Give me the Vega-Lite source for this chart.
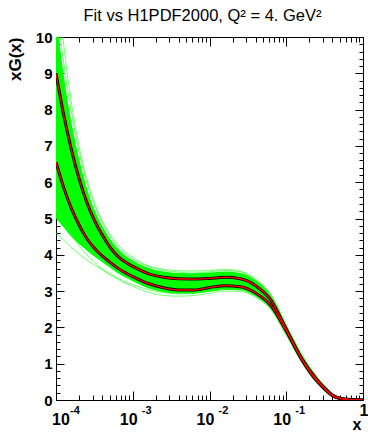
{
  "$schema": "https://vega.github.io/schema/vega-lite/v6.json",
  "width": 307,
  "height": 363,
  "autosize": "none",
  "padding": {"left": 56, "top": 37, "right": 5, "bottom": 34},
  "background": "white",
  "title": {"text": "Fit vs H1PDF2000, Q² = 4. GeV²", "font": "Liberation Sans", "fontSize": 16.5, "fontWeight": "normal", "color": "black", "anchor": "middle", "dx": -7, "offset": 6},
  "config": {
    "view": {"stroke": null},
    "axis": {"grid": false, "domainColor": "black", "tickColor": "black", "labelColor": "black", "titleColor": "black", "labelFont": "Liberation Sans", "titleFont": "Liberation Sans", "labelFontWeight": "bold", "titleFontWeight": "bold", "tickWidth": 1, "domainWidth": 1}
  },
  "datasets": {
    "band": [
      {"x": 0.0001, "lo": 5.0, "hi": 10.6},
      {"x": 0.00012589, "lo": 4.75, "hi": 8.95},
      {"x": 0.00015849, "lo": 4.5, "hi": 7.65},
      {"x": 0.00019953, "lo": 4.3, "hi": 6.65},
      {"x": 0.00025119, "lo": 4.12, "hi": 5.85},
      {"x": 0.00031623, "lo": 3.95, "hi": 5.25},
      {"x": 0.00039811, "lo": 3.8, "hi": 4.8},
      {"x": 0.00050119, "lo": 3.65, "hi": 4.45},
      {"x": 0.00063096, "lo": 3.5, "hi": 4.18},
      {"x": 0.00079433, "lo": 3.38, "hi": 3.98},
      {"x": 0.001, "lo": 3.27, "hi": 3.84},
      {"x": 0.0015849, "lo": 3.08, "hi": 3.64},
      {"x": 0.0025119, "lo": 2.97, "hi": 3.54},
      {"x": 0.0039811, "lo": 2.93, "hi": 3.5},
      {"x": 0.0063096, "lo": 2.93, "hi": 3.49},
      {"x": 0.01, "lo": 2.98, "hi": 3.51},
      {"x": 0.015849, "lo": 3.03, "hi": 3.54},
      {"x": 0.025119, "lo": 3.02, "hi": 3.5},
      {"x": 0.039811, "lo": 2.85, "hi": 3.3},
      {"x": 0.063096, "lo": 2.5, "hi": 2.88},
      {"x": 0.1, "lo": 1.8, "hi": 2.05},
      {"x": 0.15849, "lo": 1.05, "hi": 1.25},
      {"x": 0.25119, "lo": 0.47, "hi": 0.62},
      {"x": 0.31623, "lo": 0.26, "hi": 0.38},
      {"x": 0.39811, "lo": 0.1, "hi": 0.18},
      {"x": 0.50119, "lo": 0.03, "hi": 0.07},
      {"x": 0.63096, "lo": 0.01, "hi": 0.03},
      {"x": 1, "lo": 0, "hi": 0}
    ],
    "curves": [
      {"s": "U", "x": 0.0001, "y": 9.0},
      {"s": "U", "x": 0.00012589, "y": 7.85},
      {"s": "U", "x": 0.00015849, "y": 6.9},
      {"s": "U", "x": 0.00019953, "y": 6.1},
      {"s": "U", "x": 0.00025119, "y": 5.45},
      {"s": "U", "x": 0.00031623, "y": 4.95},
      {"s": "U", "x": 0.00039811, "y": 4.55},
      {"s": "U", "x": 0.00050119, "y": 4.22},
      {"s": "U", "x": 0.00063096, "y": 3.97},
      {"s": "U", "x": 0.00079433, "y": 3.8},
      {"s": "U", "x": 0.001, "y": 3.68},
      {"s": "U", "x": 0.0015849, "y": 3.48},
      {"s": "U", "x": 0.0025119, "y": 3.38},
      {"s": "U", "x": 0.0039811, "y": 3.34},
      {"s": "U", "x": 0.0063096, "y": 3.33},
      {"s": "U", "x": 0.01, "y": 3.35},
      {"s": "U", "x": 0.015849, "y": 3.38},
      {"s": "U", "x": 0.025119, "y": 3.34},
      {"s": "U", "x": 0.039811, "y": 3.15},
      {"s": "U", "x": 0.063096, "y": 2.75},
      {"s": "U", "x": 0.1, "y": 1.95},
      {"s": "U", "x": 0.15849, "y": 1.15},
      {"s": "U", "x": 0.25119, "y": 0.56},
      {"s": "U", "x": 0.31623, "y": 0.33},
      {"s": "U", "x": 0.39811, "y": 0.14},
      {"s": "U", "x": 0.50119, "y": 0.05},
      {"s": "U", "x": 0.63096, "y": 0.02},
      {"s": "U", "x": 1, "y": 0},
      {"s": "L", "x": 0.0001, "y": 6.55},
      {"s": "L", "x": 0.00012589, "y": 5.85},
      {"s": "L", "x": 0.00015849, "y": 5.28},
      {"s": "L", "x": 0.00019953, "y": 4.82},
      {"s": "L", "x": 0.00025119, "y": 4.45},
      {"s": "L", "x": 0.00031623, "y": 4.18},
      {"s": "L", "x": 0.00039811, "y": 3.97},
      {"s": "L", "x": 0.00050119, "y": 3.8},
      {"s": "L", "x": 0.00063096, "y": 3.64},
      {"s": "L", "x": 0.00079433, "y": 3.51},
      {"s": "L", "x": 0.001, "y": 3.4},
      {"s": "L", "x": 0.0015849, "y": 3.21},
      {"s": "L", "x": 0.0025119, "y": 3.09},
      {"s": "L", "x": 0.0039811, "y": 3.03},
      {"s": "L", "x": 0.0063096, "y": 3.03},
      {"s": "L", "x": 0.01, "y": 3.1},
      {"s": "L", "x": 0.015849, "y": 3.15},
      {"s": "L", "x": 0.025119, "y": 3.12},
      {"s": "L", "x": 0.039811, "y": 2.95},
      {"s": "L", "x": 0.063096, "y": 2.6},
      {"s": "L", "x": 0.1, "y": 1.9},
      {"s": "L", "x": 0.15849, "y": 1.12},
      {"s": "L", "x": 0.25119, "y": 0.52},
      {"s": "L", "x": 0.31623, "y": 0.3},
      {"s": "L", "x": 0.39811, "y": 0.12},
      {"s": "L", "x": 0.50119, "y": 0.04},
      {"s": "L", "x": 0.63096, "y": 0.015},
      {"s": "L", "x": 1, "y": 0}
    ],
    "outA": [
      {"s": "o1", "x": 0.0001, "y": 12.0},
      {"s": "o1", "x": 0.00012589, "y": 9.8},
      {"s": "o1", "x": 0.00015849, "y": 8.2},
      {"s": "o1", "x": 0.00019953, "y": 7.0},
      {"s": "o1", "x": 0.00025119, "y": 6.1},
      {"s": "o1", "x": 0.00031623, "y": 5.45},
      {"s": "o1", "x": 0.00039811, "y": 4.95},
      {"s": "o1", "x": 0.00050119, "y": 4.58},
      {"s": "o1", "x": 0.00063096, "y": 4.3},
      {"s": "o1", "x": 0.00079433, "y": 4.08},
      {"s": "o1", "x": 0.001, "y": 3.93},
      {"s": "o1", "x": 0.0015849, "y": 3.7},
      {"s": "o1", "x": 0.0025119, "y": 3.6},
      {"s": "o1", "x": 0.0039811, "y": 3.56},
      {"s": "o1", "x": 0.0063096, "y": 3.55},
      {"s": "o1", "x": 0.01, "y": 3.57},
      {"s": "o1", "x": 0.015849, "y": 3.6},
      {"s": "o1", "x": 0.025119, "y": 3.55},
      {"s": "o1", "x": 0.039811, "y": 3.33},
      {"s": "o1", "x": 0.063096, "y": 2.9},
      {"s": "o1", "x": 0.1, "y": 2.06},
      {"s": "o1", "x": 0.15849, "y": 1.26},
      {"s": "o1", "x": 0.25119, "y": 0.63},
      {"s": "o1", "x": 0.31623, "y": 0.39},
      {"s": "o1", "x": 0.39811, "y": 0.18},
      {"s": "o1", "x": 0.50119, "y": 0.07},
      {"s": "o1", "x": 0.63096, "y": 0.03},
      {"s": "o1", "x": 1, "y": 0},
      {"s": "o2", "x": 0.0001, "y": 4.6},
      {"s": "o2", "x": 0.00012589, "y": 4.4},
      {"s": "o2", "x": 0.00015849, "y": 4.2},
      {"s": "o2", "x": 0.00019953, "y": 4.02},
      {"s": "o2", "x": 0.00025119, "y": 3.86},
      {"s": "o2", "x": 0.00031623, "y": 3.72},
      {"s": "o2", "x": 0.00039811, "y": 3.58},
      {"s": "o2", "x": 0.00050119, "y": 3.45},
      {"s": "o2", "x": 0.00063096, "y": 3.33},
      {"s": "o2", "x": 0.00079433, "y": 3.22},
      {"s": "o2", "x": 0.001, "y": 3.13},
      {"s": "o2", "x": 0.0015849, "y": 2.97},
      {"s": "o2", "x": 0.0025119, "y": 2.88},
      {"s": "o2", "x": 0.0039811, "y": 2.86},
      {"s": "o2", "x": 0.0063096, "y": 2.88},
      {"s": "o2", "x": 0.01, "y": 2.94},
      {"s": "o2", "x": 0.015849, "y": 3.0},
      {"s": "o2", "x": 0.025119, "y": 2.99},
      {"s": "o2", "x": 0.039811, "y": 2.83},
      {"s": "o2", "x": 0.063096, "y": 2.48},
      {"s": "o2", "x": 0.1, "y": 1.78},
      {"s": "o2", "x": 0.15849, "y": 1.04},
      {"s": "o2", "x": 0.25119, "y": 0.46},
      {"s": "o2", "x": 0.31623, "y": 0.25},
      {"s": "o2", "x": 0.39811, "y": 0.1},
      {"s": "o2", "x": 0.50119, "y": 0.03},
      {"s": "o2", "x": 0.63096, "y": 0.01},
      {"s": "o2", "x": 1, "y": 0}
    ],
    "outB": [
      {"s": "o3", "x": 0.0001, "y": 5.3},
      {"s": "o3", "x": 0.00012589, "y": 4.9},
      {"s": "o3", "x": 0.00015849, "y": 4.55},
      {"s": "o3", "x": 0.00019953, "y": 4.25},
      {"s": "o3", "x": 0.00025119, "y": 4.0},
      {"s": "o3", "x": 0.00031623, "y": 3.8},
      {"s": "o3", "x": 0.00039811, "y": 3.62},
      {"s": "o3", "x": 0.00050119, "y": 3.48},
      {"s": "o3", "x": 0.00063096, "y": 3.36},
      {"s": "o3", "x": 0.00079433, "y": 3.26},
      {"s": "o3", "x": 0.001, "y": 3.18},
      {"s": "o3", "x": 0.0015849, "y": 3.04},
      {"s": "o3", "x": 0.0025119, "y": 2.96},
      {"s": "o3", "x": 0.0039811, "y": 2.92},
      {"s": "o3", "x": 0.0063096, "y": 2.95},
      {"s": "o3", "x": 0.01, "y": 3.0},
      {"s": "o3", "x": 0.015849, "y": 3.05},
      {"s": "o3", "x": 0.025119, "y": 3.03},
      {"s": "o3", "x": 0.039811, "y": 2.87},
      {"s": "o3", "x": 0.063096, "y": 2.52},
      {"s": "o3", "x": 0.1, "y": 1.82},
      {"s": "o3", "x": 0.15849, "y": 1.06},
      {"s": "o3", "x": 0.25119, "y": 0.48},
      {"s": "o3", "x": 0.31623, "y": 0.27},
      {"s": "o3", "x": 0.39811, "y": 0.11},
      {"s": "o3", "x": 0.50119, "y": 0.04},
      {"s": "o3", "x": 0.63096, "y": 0.01},
      {"s": "o3", "x": 1, "y": 0},
      {"s": "o4", "x": 0.0001, "y": 11.0},
      {"s": "o4", "x": 0.00012589, "y": 9.3},
      {"s": "o4", "x": 0.00015849, "y": 7.95},
      {"s": "o4", "x": 0.00019953, "y": 6.85},
      {"s": "o4", "x": 0.00025119, "y": 6.0},
      {"s": "o4", "x": 0.00031623, "y": 5.38},
      {"s": "o4", "x": 0.00039811, "y": 4.9},
      {"s": "o4", "x": 0.00050119, "y": 4.52},
      {"s": "o4", "x": 0.00063096, "y": 4.22},
      {"s": "o4", "x": 0.00079433, "y": 4.02},
      {"s": "o4", "x": 0.001, "y": 3.88},
      {"s": "o4", "x": 0.0015849, "y": 3.68},
      {"s": "o4", "x": 0.0025119, "y": 3.57},
      {"s": "o4", "x": 0.0039811, "y": 3.52},
      {"s": "o4", "x": 0.0063096, "y": 3.5},
      {"s": "o4", "x": 0.01, "y": 3.53},
      {"s": "o4", "x": 0.015849, "y": 3.57},
      {"s": "o4", "x": 0.025119, "y": 3.53},
      {"s": "o4", "x": 0.039811, "y": 3.32},
      {"s": "o4", "x": 0.063096, "y": 2.9},
      {"s": "o4", "x": 0.1, "y": 2.06},
      {"s": "o4", "x": 0.15849, "y": 1.26},
      {"s": "o4", "x": 0.25119, "y": 0.63},
      {"s": "o4", "x": 0.31623, "y": 0.39},
      {"s": "o4", "x": 0.39811, "y": 0.18},
      {"s": "o4", "x": 0.50119, "y": 0.07},
      {"s": "o4", "x": 0.63096, "y": 0.03},
      {"s": "o4", "x": 1, "y": 0}
    ]
  },
  "resolve": {"axis": {"x": "independent", "y": "independent"}},
  "layer": [
    {
      "data": {"name": "band"},
      "mark": {"type": "area", "color": "#00ff00", "interpolate": "monotone", "clip": true},
      "encoding": {
        "x": {"field": "x", "type": "quantitative", "scale": {"type": "log", "domain": [0.0001, 1], "nice": false},
          "axis": {"orient": "bottom", "values": [0.0001, 0.001, 0.01, 0.1, 1], "labelExpr": "datum.value >= 1 ? '1' : '10'", "tickSize": -9, "labelPadding": {"condition": {"test": "datum.value >= 1", "value": 11}, "value": 20}, "labelFontSize": 16, "labelOffset": {"condition": {"test": "datum.value >= 1", "value": 5}, "value": -4.5}, "title": "x", "titleFontSize": 16, "titleAnchor": "end", "titleAlign": "right", "titleX": 305, "titleY": 29, "titleBaseline": "alphabetic"}},
        "y": {"field": "lo", "type": "quantitative", "scale": {"domain": [0, 10], "nice": false, "zero": false},
          "axis": {"orient": "left", "values": [0, 1, 2, 3, 4, 5, 6, 7, 8, 9, 10], "tickSize": -8, "labelPadding": 12, "labelFontSize": 15, "title": "xG(x)", "titleFontSize": 17, "titleAnchor": "end", "titlePadding": 11}},
        "y2": {"field": "hi"}
      }
    },
    {
      "data": {"name": "outA"},
      "mark": {"type": "line", "color": "#33ff33", "strokeWidth": 1, "opacity": 0.7, "interpolate": "monotone", "clip": true},
      "encoding": {
        "x": {"field": "x", "type": "quantitative",
          "axis": {"orient": "bottom", "values": [0.0001, 0.001, 0.01, 0.1], "labelExpr": "datum.value < 0.0005 ? '-4' : datum.value < 0.005 ? '-3' : datum.value < 0.05 ? '-2' : '-1'", "ticks": false, "domain": false, "labelPadding": 4, "labelFontSize": 11, "labelOffset": 13.5, "title": null}},
        "y": {"field": "y", "type": "quantitative",
          "axis": {"orient": "left", "values": [0.2, 0.4, 0.6, 0.8, 1.2, 1.4, 1.6, 1.8, 2.2, 2.4, 2.6, 2.8, 3.2, 3.4, 3.6, 3.8, 4.2, 4.4, 4.6, 4.8, 5.2, 5.4, 5.6, 5.8, 6.2, 6.4, 6.6, 6.8, 7.2, 7.4, 7.6, 7.8, 8.2, 8.4, 8.6, 8.8, 9.2, 9.4, 9.6, 9.8], "tickSize": -4, "labels": false, "domain": false, "title": null}},
        "detail": {"field": "s"}
      }
    },
    {
      "data": {"name": "outB"},
      "mark": {"type": "line", "color": "#33ff33", "strokeWidth": 1, "opacity": 0.7, "interpolate": "monotone", "clip": true},
      "encoding": {
        "x": {"field": "x", "type": "quantitative",
          "axis": {"orient": "bottom", "values": [0.0002, 0.0003, 0.0004, 0.0005, 0.0006, 0.0007, 0.0008, 0.0009, 0.002, 0.003, 0.004, 0.005, 0.006, 0.007, 0.008, 0.009, 0.02, 0.03, 0.04, 0.05, 0.06, 0.07, 0.08, 0.09, 0.2, 0.3, 0.4, 0.5, 0.6, 0.7, 0.8, 0.9], "tickSize": -5, "labels": false, "domain": false, "title": null}},
        "y": {"field": "y", "type": "quantitative",
          "axis": {"orient": "right", "values": [0, 1, 2, 3, 4, 5, 6, 7, 8, 9, 10], "tickSize": -8, "labels": false, "title": null}},
        "detail": {"field": "s"}
      }
    },
    {
      "data": {"name": "curves"},
      "mark": {"type": "line", "color": "black", "strokeWidth": 3, "interpolate": "monotone", "clip": true},
      "encoding": {
        "x": {"field": "x", "type": "quantitative",
          "axis": {"orient": "top", "values": [0.0001, 0.001, 0.01, 0.1, 1], "tickSize": -9, "labels": false, "title": null}},
        "y": {"field": "y", "type": "quantitative",
          "axis": {"orient": "right", "values": [0.2, 0.4, 0.6, 0.8, 1.2, 1.4, 1.6, 1.8, 2.2, 2.4, 2.6, 2.8, 3.2, 3.4, 3.6, 3.8, 4.2, 4.4, 4.6, 4.8, 5.2, 5.4, 5.6, 5.8, 6.2, 6.4, 6.6, 6.8, 7.2, 7.4, 7.6, 7.8, 8.2, 8.4, 8.6, 8.8, 9.2, 9.4, 9.6, 9.8], "tickSize": -4, "labels": false, "domain": false, "title": null}},
        "detail": {"field": "s"}
      }
    },
    {
      "data": {"name": "curves"},
      "mark": {"type": "line", "color": "#ff0000", "strokeWidth": 1.3, "interpolate": "monotone", "clip": true},
      "encoding": {
        "x": {"field": "x", "type": "quantitative",
          "axis": {"orient": "top", "values": [0.0002, 0.0003, 0.0004, 0.0005, 0.0006, 0.0007, 0.0008, 0.0009, 0.002, 0.003, 0.004, 0.005, 0.006, 0.007, 0.008, 0.009, 0.02, 0.03, 0.04, 0.05, 0.06, 0.07, 0.08, 0.09, 0.2, 0.3, 0.4, 0.5, 0.6, 0.7, 0.8, 0.9], "tickSize": -5, "labels": false, "domain": false, "title": null}},
        "y": {"field": "y", "type": "quantitative", "axis": null},
        "detail": {"field": "s"}
      }
    }
  ]
}
